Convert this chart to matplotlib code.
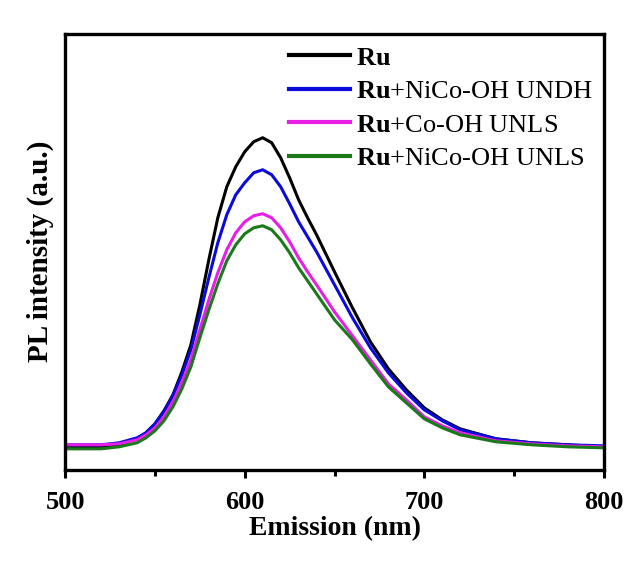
import matplotlib
matplotlib.use("Agg")
import matplotlib.pyplot as plt

plt.rcParams["font.family"] = "Liberation Serif"
plt.rcParams["mathtext.fontset"] = "custom"
plt.rcParams["mathtext.rm"] = "Liberation Serif"
plt.rcParams["mathtext.bf"] = "Liberation Serif:bold"

# emission wavelength (nm)
wavelength = [500, 510, 520, 530, 540, 545, 550, 555, 560, 565, 570, 575, 580, 585,
              590, 595, 600, 605, 610, 615, 620, 625, 630, 635, 640, 650, 660, 670,
              680, 690, 700, 710, 720, 740, 760, 780, 800]

# PL intensity (a.u.)
ru = [23, 23, 23, 25, 31, 37, 46, 59, 75, 98, 125, 165, 210, 252,
      283, 303, 318, 328, 332, 327, 312, 292, 270, 252, 235, 198, 162, 128,
      101, 80, 62, 50, 41, 31, 27, 25, 23]
ru_nico_undh = [25, 25, 25, 27, 32, 37, 46, 58, 74, 95, 120, 155, 192, 227,
                255, 275, 287, 297, 300, 295, 283, 266, 248, 233, 218, 185, 152, 122,
                97, 77, 60, 49, 40, 31, 27, 25, 24]
ru_co_unls = [25, 25, 25, 26, 30, 35, 42, 53, 68, 87, 110, 140, 170, 197,
              220, 237, 248, 254, 256, 252, 242, 228, 212, 198, 185, 158, 134, 110,
              86, 70, 53, 44, 37, 29, 26, 24, 23]
ru_nico_unls = [21, 21, 21, 23, 27, 32, 39, 49, 63, 81, 103, 132, 160, 186,
                209, 225, 236, 242, 244, 240, 230, 217, 202, 189, 176, 150, 130, 106,
                83, 67, 51, 42, 35, 28, 25, 23, 22]

labels = [r"$\mathbf{Ru}$",
          r"$\mathbf{Ru}$+NiCo-OH UNDH",
          r"$\mathbf{Ru}$+Co-OH UNLS",
          r"$\mathbf{Ru}$+NiCo-OH UNLS"]
colors = ["#000000", "#0a0adc", "#e61ee6", "#1a7a1a"]

fig = plt.figure(figsize=(6.27, 5.62), dpi=100)
ax = fig.add_axes([0.104, 0.164, 0.859, 0.776])

for ys, lab, c in zip([ru, ru_nico_undh, ru_co_unls, ru_nico_unls], labels, colors):
    ax.plot(wavelength, ys, color=c, lw=2.2, label=lab)

ax.set_xlim(500, 800)
ax.set_ylim(0, 436)
ax.set_xticks([500, 600, 700, 800])
ax.set_xticks([550, 650, 750], minor=True)
ax.set_yticks([])
ax.tick_params(axis="x", which="major", direction="out", length=6, width=2.2,
               labelsize=19, pad=9)
ax.tick_params(axis="x", which="minor", direction="out", length=4, width=2.2)
for lbl in ax.get_xticklabels():
    lbl.set_fontweight("bold")
for sp in ax.spines.values():
    sp.set_linewidth(2.4)

ax.set_xlabel("Emission (nm)", fontsize=20, fontweight="bold", labelpad=2)
ax.set_ylabel("PL intensity (a.u.)", fontsize=21, fontweight="bold", labelpad=8)

leg = ax.legend(loc="upper left", bbox_to_anchor=(0.382, 1.014), frameon=False,
                fontsize=19, handlelength=2.3, handletextpad=0.22,
                labelspacing=0.38, borderaxespad=0.3)
for line in leg.get_lines():
    line.set_linewidth(3)

fig.savefig("out.png", dpi=100)
